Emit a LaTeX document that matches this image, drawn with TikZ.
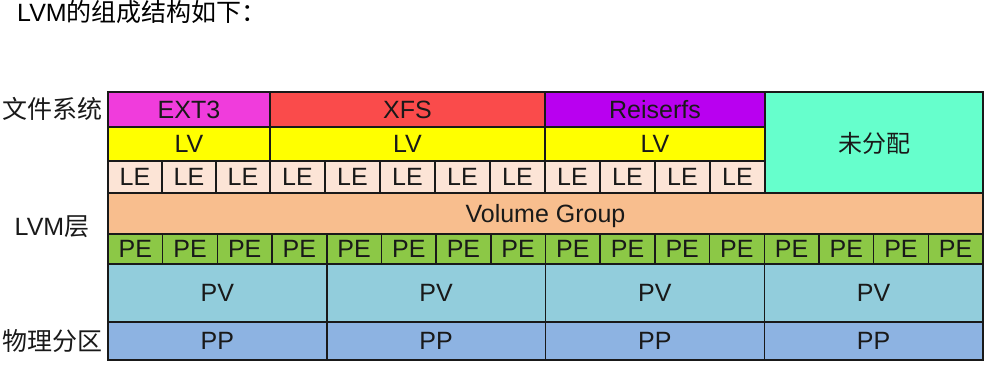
\documentclass[tikz,border=0pt]{standalone}
\usepackage{fontspec}
\setmainfont{Liberation Sans}
\newfontfamily\cjk{Noto Sans CJK SC}
\definecolor{ExtPink}{RGB}{240, 60, 220}
\definecolor{XfsRed}{RGB}{250, 75, 75}
\definecolor{ReiserPurple}{RGB}{185, 0, 240}
\definecolor{LvYellow}{RGB}{255, 255, 0}
\definecolor{LeBeige}{RGB}{252, 228, 214}
\definecolor{FreeGreen}{RGB}{102, 255, 204}
\definecolor{VgOrange}{RGB}{248, 190, 142}
\definecolor{PeGreen}{RGB}{140, 200, 70}
\definecolor{PvBlue}{RGB}{146, 205, 220}
\definecolor{PpBlue}{RGB}{141, 179, 226}
\usepackage{tikz}
\usetikzlibrary{positioning}

\begin{document}
\begin{tikzpicture}[
            x=1pt, y=-1pt,
            cell/.style={rectangle, draw=black!90, line width=1.5pt, anchor=north west,
                         inner sep=0pt, outer sep=0pt, text depth=0pt, text=black!90,
                         font=\fontsize{25}{25}\selectfont},
            layer/.style={font=\cjk\fontsize{25}{25}\selectfont, text=black!90}
        ]
            \useasboundingbox (0,0) rectangle (987,369);

            % Title and layer names
            \node[anchor=base west, inner sep=0pt, font=\cjk\fontsize{25}{25}\selectfont] (title) at (17,21.5) {{\rmfamily LVM}的组成结构如下：};
            \node[layer] (fs) at (52,109) {文件系统};
            \node[layer] (lvm) at (52,227) {{\rmfamily LVM}层};
            \node[layer] (phys) at (52,341) {物理分区};

            % File systems
            \node[cell, fill=ExtPink, minimum width=162pt, minimum height=35pt] (ext3) at (108,92) {EXT3};
            \node[cell, fill=XfsRed, minimum width=275pt, minimum height=35pt, right=0pt of ext3] (xfs) {XFS};
            \node[cell, fill=ReiserPurple, minimum width=220pt, minimum height=35pt, right=0pt of xfs] (reiser) {Reiserfs};
            \node[cell, fill=FreeGreen, minimum width=218pt, minimum height=101pt, font=\cjk\fontsize{24}{24}\selectfont] (free) at (765,92) {未分配};

            % Logical volumes
            \node[cell, fill=LvYellow, minimum width=162pt, minimum height=34pt, below=0pt of ext3] (lva) {LV};
            \node[cell, fill=LvYellow, minimum width=275pt, minimum height=34pt, below=0pt of xfs] (lvb) {LV};
            \node[cell, fill=LvYellow, minimum width=220pt, minimum height=34pt, below=0pt of reiser] (lvc) {LV};

            % Logical extents
            \foreach \i in {0,1,2}
                \node[cell, fill=LeBeige, minimum width=54pt, minimum height=32pt] (lea\i) at ({108+54*\i},161) {LE};
            \foreach \i in {0,...,4}
                \node[cell, fill=LeBeige, minimum width=55pt, minimum height=32pt] (leb\i) at ({270+55*\i},161) {LE};
            \foreach \i in {0,...,3}
                \node[cell, fill=LeBeige, minimum width=55pt, minimum height=32pt] (lec\i) at ({545+55*\i},161) {LE};

            % Volume group
            \node[cell, fill=VgOrange, minimum width=875pt, minimum height=41pt] (vg) at (108,193) {Volume Group};

            % Physical extents
            \foreach \i in {0,...,15}
                \node[cell, fill=PeGreen, minimum width=54.6875pt, minimum height=30pt] (pe\i) at ({108+54.6875*\i},234) {PE};

            % Physical volumes and partitions
            \foreach \i in {0,...,3} {
                \node[cell, fill=PvBlue, minimum width=218.75pt, minimum height=58pt] (pv\i) at ({108+218.75*\i},264) {PV};
                \node[cell, fill=PpBlue, minimum width=218.75pt, minimum height=38pt, below=0pt of pv\i] (pp\i) {PP};
            }
        \end{tikzpicture}
\end{document}
